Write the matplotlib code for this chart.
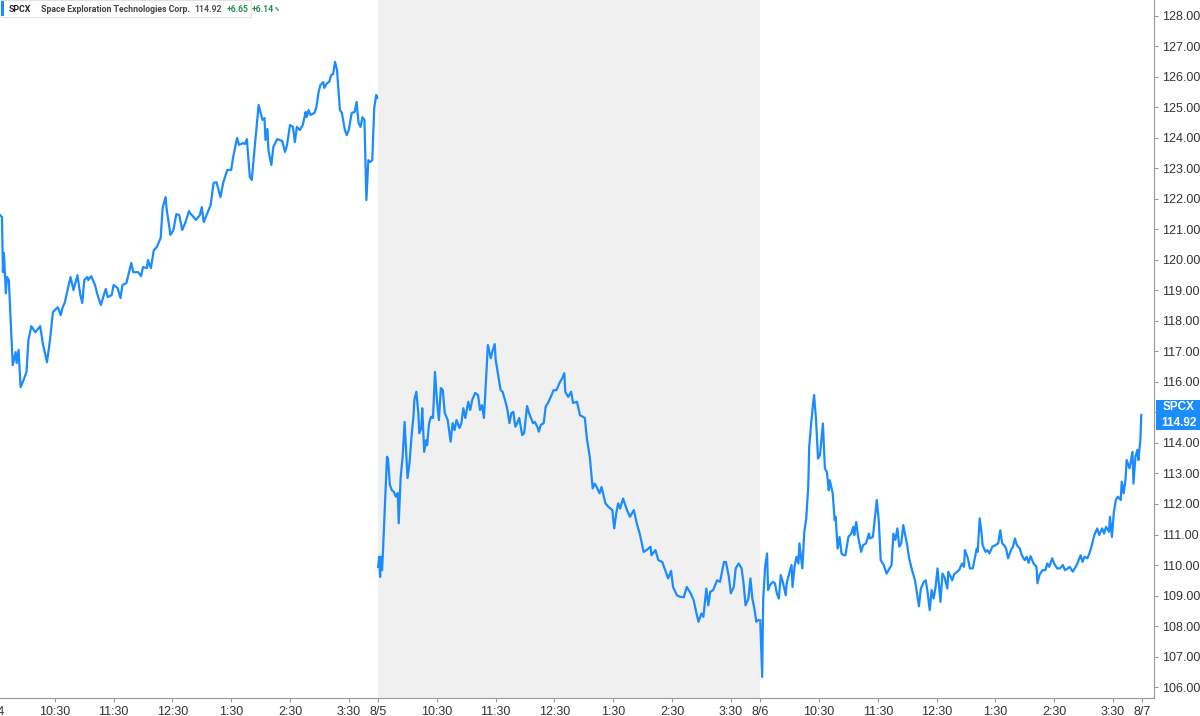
import matplotlib
matplotlib.use('Agg')
import matplotlib.pyplot as plt
import matplotlib.transforms as mtransforms

# minutes since the 9:30 open, and price, one pair of lists per session
t_aug4 = [4, 6, 7, 8, 10, 11, 13, 17, 20, 21, 23, 25, 28, 31, 33, 36, 40, 45, 48, 52,
          55, 58, 63, 66, 68, 70, 76, 79, 83, 86, 88, 90, 93, 94, 97, 101, 103, 107, 110, 112,
          114, 118, 120, 124, 127, 129, 133, 138, 140, 145, 148, 150, 154, 155, 158, 161, 164, 168, 170, 173,
          174, 178, 181, 184, 187, 190, 193, 197, 198, 204, 208, 210, 212, 219, 222, 225, 229, 232, 236, 240,
          242, 246, 248, 252, 254, 256, 259, 261, 264, 268, 270, 272, 274, 275, 277, 278, 281, 283, 287, 292,
          295, 297, 300, 303, 305, 307, 310, 313, 316, 317, 319, 321, 325, 327, 329, 331, 334, 335, 338, 340,
          342, 344, 346, 348, 351, 353, 356, 358, 360, 363, 366, 368, 370, 372, 374, 376, 378, 380, 382, 384,
          386, 388, 389]
p_aug4 = [121.47, 121.41, 119.60, 120.23, 118.91, 119.44, 119.34, 116.55, 116.98, 116.62, 117.05, 115.83, 116.06, 116.32, 117.37, 117.83, 117.63, 117.83, 117.21, 116.65,
          117.37, 118.29, 118.45, 118.19, 118.45, 118.59, 119.44, 119.01, 119.50, 118.85, 118.59, 119.34, 119.44, 119.34, 119.47, 119.18, 118.91, 118.52, 118.85, 119.05,
          118.78, 118.85, 119.18, 119.08, 118.75, 119.18, 119.24, 119.90, 119.60, 119.60, 119.47, 119.77, 119.73, 120.00, 119.73, 120.32, 120.42, 120.72, 121.70, 122.06,
          121.70, 120.82, 120.98, 121.50, 121.47, 120.98, 121.21, 121.60, 121.54, 121.31, 121.47, 121.73, 121.24, 121.80, 122.52, 122.55, 122.06, 122.55, 122.95, 122.95,
          123.37, 124.00, 123.77, 123.83, 123.80, 123.96, 122.72, 122.62, 123.70, 125.08, 124.82, 124.59, 124.65, 123.93, 124.29, 123.60, 123.11, 123.70, 123.96, 123.90,
          123.54, 123.77, 124.42, 124.36, 123.86, 124.36, 124.26, 124.42, 124.85, 124.68, 124.91, 124.75, 124.82, 125.01, 125.47, 125.73, 125.83, 125.64, 125.80, 125.83,
          126.06, 126.09, 126.49, 126.23, 124.91, 124.82, 124.26, 124.09, 124.26, 124.82, 124.85, 125.18, 124.49, 124.36, 124.68, 124.59, 121.96, 123.27, 123.21, 123.27,
          124.98, 125.41, 125.31]

t_aug5 = [0, 1, 2, 3, 4, 5, 7, 9, 10, 12, 14, 16, 18, 20, 21, 23, 25, 27, 28, 30,
          32, 34, 36, 37, 39, 41, 42, 44, 45, 46, 47, 49, 50, 52, 54, 56, 58, 60, 62, 64,
          66, 68, 69, 71, 74, 76, 78, 80, 83, 85, 87, 89, 92, 94, 96, 99, 102, 104, 106, 108,
          110, 112, 115, 117, 119, 120, 123, 125, 127, 130, 132, 134, 136, 138, 140, 142, 144, 147, 149, 152,
          154, 156, 158, 160, 163, 164, 166, 169, 171, 174, 177, 179, 182, 185, 188, 190, 191, 194, 197, 199,
          203, 206, 209, 211, 213, 216, 219, 221, 223, 226, 228, 232, 235, 239, 241, 243, 245, 247, 250, 254,
          257, 261, 264, 267, 271, 274, 278, 279, 283, 286, 290, 293, 296, 299, 301, 305, 308, 312, 315, 319,
          322, 325, 327, 330, 332, 335, 337, 339, 342, 346, 349, 353, 355, 358, 360, 363, 365, 368, 371, 373,
          375, 378, 380, 382, 384, 386, 388]
p_aug5 = [109.94, 110.27, 109.61, 110.27, 109.83, 110.49, 112.03, 113.55, 113.50, 112.62, 112.45, 112.40, 112.24, 112.36, 111.37, 112.88, 113.55, 114.69, 114.09, 112.85,
          113.34, 114.20, 114.86, 115.41, 115.68, 114.98, 114.32, 114.49, 115.14, 114.42, 113.71, 114.09, 113.93, 114.65, 114.86, 114.82, 116.33, 115.41, 114.75, 115.80,
          115.73, 114.98, 114.91, 114.75, 114.04, 114.65, 114.42, 114.75, 114.49, 114.65, 115.14, 114.82, 115.35, 115.08, 115.41, 115.64, 115.57, 115.08, 115.24, 114.82,
          116.01, 117.21, 116.78, 117.05, 117.24, 116.72, 116.13, 115.73, 115.68, 115.35, 115.08, 114.65, 114.98, 115.02, 114.53, 114.65, 114.82, 114.26, 114.32, 115.21,
          114.98, 114.82, 114.65, 114.69, 114.49, 114.37, 114.59, 114.65, 115.19, 115.35, 115.57, 115.73, 115.73, 115.96, 116.13, 116.29, 115.68, 115.51, 115.68, 115.31,
          115.35, 114.91, 114.86, 114.82, 114.16, 113.55, 112.51, 112.67, 112.56, 112.35, 112.56, 112.02, 111.91, 111.80, 111.20, 111.69, 112.02, 111.85, 112.18, 111.80,
          111.58, 111.80, 111.36, 111.03, 110.43, 110.49, 110.60, 110.32, 110.49, 110.16, 110.10, 109.83, 109.56, 109.81, 109.28, 109.01, 108.96, 108.94, 109.28, 109.07,
          108.85, 108.41, 108.14, 108.41, 108.30, 109.23, 108.68, 109.12, 109.18, 109.50, 109.45, 110.10, 110.10, 109.61, 109.07, 109.28, 109.89, 110.05, 109.89, 109.40,
          108.68, 108.90, 109.56, 108.90, 108.58, 108.14, 108.19]

t_aug6 = [0, 2, 3, 5, 7, 8, 10, 13, 15, 17, 19, 21, 23, 26, 27, 30, 32, 33, 35, 37,
          39, 40, 43, 45, 47, 49, 50, 52, 54, 55, 57, 59, 61, 64, 66, 68, 70, 71, 74, 76,
          77, 79, 81, 83, 85, 87, 90, 93, 95, 96, 98, 100, 103, 105, 108, 111, 112, 115, 117, 119,
          121, 123, 126, 129, 131, 134, 136, 138, 140, 142, 144, 146, 148, 150, 152, 155, 158, 160, 162, 164,
          167, 169, 171, 173, 175, 177, 179, 181, 184, 186, 188, 191, 192, 196, 198, 201, 203, 206, 208, 209,
          212, 214, 217, 221, 222, 224, 226, 227, 230, 232, 234, 237, 240, 243, 245, 247, 249, 251, 253, 256,
          258, 260, 262, 265, 267, 270, 272, 274, 276, 279, 282, 283, 285, 288, 291, 293, 295, 298, 300, 303,
          306, 309, 311, 314, 316, 319, 322, 324, 327, 329, 331, 334, 336, 339, 341, 344, 346, 349, 351, 353,
          356, 357, 359, 361, 363, 365, 368, 369, 371, 373, 374, 377, 380, 381, 383, 385, 386, 388, 389]
p_aug6 = [108.19, 106.33, 108.85, 109.94, 110.38, 109.18, 109.34, 109.45, 109.40, 109.07, 108.90, 109.67, 109.45, 109.01, 109.40, 109.78, 110.00, 109.28, 109.94, 110.27,
          110.05, 110.71, 109.89, 111.09, 111.53, 112.56, 113.87, 114.64, 115.30, 115.57, 114.75, 113.49, 113.60, 114.64, 113.17, 113.05, 112.45, 112.78, 112.35, 111.47,
          111.58, 110.54, 110.92, 110.38, 110.32, 110.32, 110.92, 111.03, 111.25, 110.98, 111.41, 110.92, 110.43, 110.65, 110.71, 111.03, 110.87, 110.92, 111.53, 112.13,
          111.47, 110.16, 110.00, 109.72, 109.83, 110.00, 111.03, 110.82, 111.20, 110.60, 110.71, 111.31, 110.98, 110.65, 110.22, 109.83, 109.50, 109.07, 108.65, 109.23,
          109.45, 109.50, 109.07, 108.52, 109.18, 108.90, 109.28, 109.89, 108.79, 109.72, 109.61, 109.23, 109.78, 109.50, 109.70, 109.78, 109.83, 110.05, 109.94, 110.49,
          110.22, 109.89, 109.89, 110.54, 110.43, 111.53, 111.03, 110.65, 110.43, 110.49, 110.38, 110.60, 110.65, 110.71, 111.14, 110.71, 110.65, 110.54, 110.22, 110.49,
          110.60, 110.87, 110.65, 110.54, 110.32, 110.16, 110.27, 110.07, 110.29, 110.05, 109.94, 109.40, 109.67, 109.83, 109.83, 110.05, 109.94, 110.22, 110.05, 109.89,
          109.89, 110.00, 109.83, 109.89, 109.94, 109.78, 109.94, 110.07, 110.32, 110.10, 110.27, 110.22, 110.38, 110.71, 110.98, 111.20, 110.98, 111.20, 111.03, 111.25,
          111.09, 111.58, 110.92, 111.74, 112.13, 112.24, 112.13, 112.73, 112.35, 112.84, 113.44, 113.17, 113.71, 112.67, 113.55, 113.77, 113.44, 114.09, 114.92]

days = ['8/4', '8/5', '8/6', '8/7']
hour_labels = ['10:30', '11:30', '12:30', '1:30', '2:30', '3:30']
y_ticks = list(range(106, 129))

session = 390
blue = '#1a8cff'
green = '#2e8b57'

fig = plt.figure(figsize=(12, 7.16), dpi=100)
ax = fig.add_axes([0, 0.0251, 0.9617, 0.9749])

ax.axvspan(session, 2 * session, color='#f0f0f0', lw=0, zorder=0)

for d, (tt, pp) in enumerate([(t_aug4, p_aug4), (t_aug5, p_aug5), (t_aug6, p_aug6)]):
    ax.plot([d * session + t for t in tt], pp, color=blue, lw=1.6, zorder=3,
            solid_joinstyle='round')

ax.set_xlim(4, 1182)
ax.set_ylim(105.64, 128.52)

# x ticks: day boundaries and each hour mark
xt, xl = [], []
for d in range(4):
    if d > 0:
        xt.append(d * session)
        xl.append(days[d])
    if d < 3:
        for i, lab in enumerate(hour_labels):
            xt.append(d * session + 60 * (i + 1))
            xl.append(lab)
ax.set_xticks(xt)
ax.set_xticklabels(xl)
# the first day label sits half off the left edge, as in the source chart
ax.text(0, -0.011, days[0], transform=mtransforms.blended_transform_factory(ax.transData, ax.transAxes),
        ha='center', va='top', fontsize=9, color='#333333', family='Liberation Sans', clip_on=False)

ax.yaxis.tick_right()
ax.set_yticks(y_ticks)
ax.set_yticklabels(['%.2f' % v for v in y_ticks])

ax.tick_params(axis='both', labelsize=9, labelcolor='#333333', color='#999999',
               length=3, width=0.8, pad=3)
for lab in ax.get_xticklabels() + ax.get_yticklabels():
    lab.set_family('Liberation Sans')

for s in ['top', 'left']:
    ax.spines[s].set_visible(False)
for s in ['bottom', 'right']:
    ax.spines[s].set_color('#999999')
    ax.spines[s].set_linewidth(0.8)

# last price tag on the right axis: a box with two lines of text
last = p_aug6[-1]
tag_tr = mtransforms.blended_transform_factory(ax.transAxes, ax.transData)
ax.add_patch(plt.Rectangle((1.0015, last - 0.48), 0.045, 0.96, transform=tag_tr,
                           fc=blue, ec='none', clip_on=False, zorder=5))
tag_kw = dict(transform=tag_tr, ha='center', va='center', fontsize=8.5, fontweight='bold',
              color='white', family='Liberation Sans', clip_on=False, zorder=6)
ax.text(1.0215, last + 0.25, 'SPCX', **tag_kw)
ax.text(1.0215, last - 0.25, '%.2f' % last, **tag_kw)

# legend strip at top left, pieces laid out one after another
first_close = 108.27
chg = last - first_close
pct = chg / first_close * 100
fig.patches.append(plt.Rectangle((0.001, 1 - 17 / 716), 250 / 1200, 17 / 716, transform=fig.transFigure,
                                 fc='white', ec='#dddddd', lw=0.6, zorder=10))
fig.patches.append(plt.Rectangle((0.001, 1 - 16 / 716), 2.5 / 1200, 15 / 716, transform=fig.transFigure,
                                 fc=blue, ec='none', zorder=11))

renderer = fig.canvas.get_renderer()
yl = 1 - 9.5 / 716
pieces = [('SPCX', '#222222', 6.3, 10),
          ('Space Exploration Technologies Corp.', '#444444', 6.3, 5),
          ('%.2f' % last, '#555555', 6.3, 5),
          ('%+.2f' % chg, green, 6.3, 3),
          ('%+.2f' % pct, green, 6.3, 0.5),
          ('%', green, 4.2, 0)]
x = 8.5
for txt, col, size, gap in pieces:
    t = fig.text(x / 1200, yl, txt, color=col, fontsize=size, fontweight='bold',
                 family='Roboto', va='center', zorder=12)
    x = t.get_window_extent(renderer).x1 + gap

fig.savefig('out.png', dpi=100)
